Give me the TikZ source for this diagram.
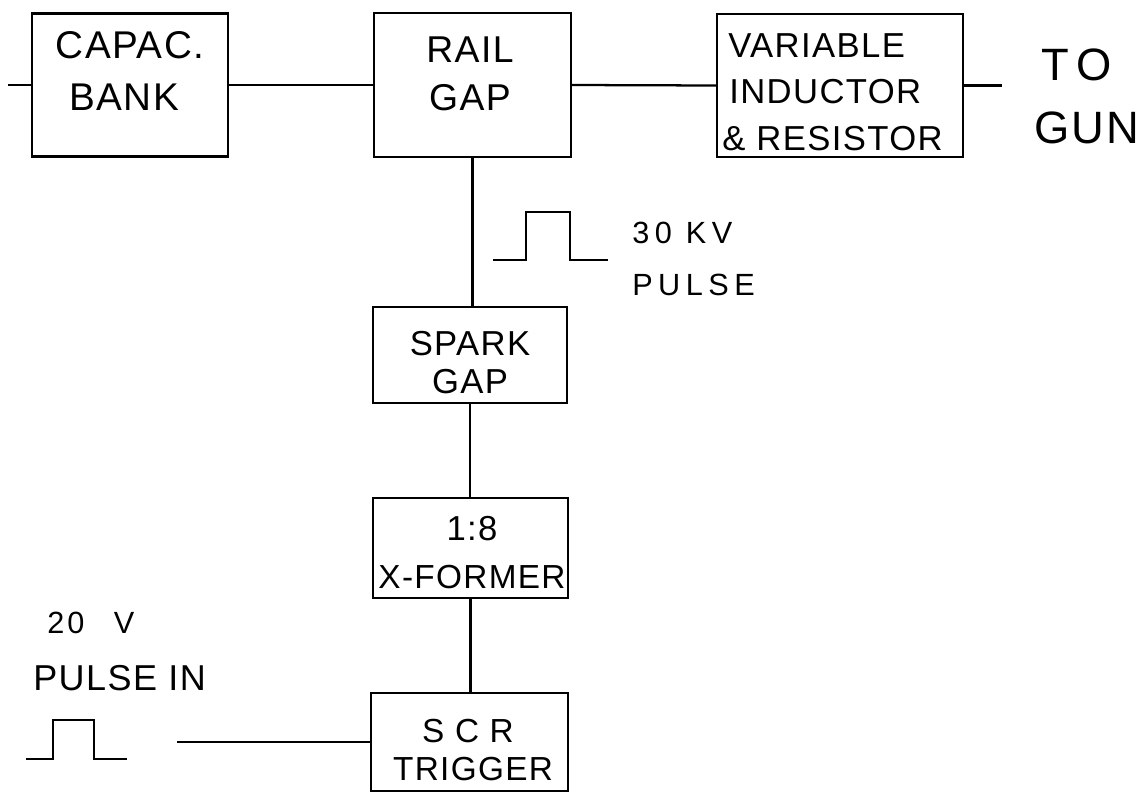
\documentclass[tikz,border=0pt]{standalone}
\usepackage{fontspec}
\setmainfont{Liberation Sans}[LetterSpace=4]
\begin{document}
\begin{tikzpicture}[x=0.75pt,y=-0.75pt,
  box/.style={draw, line width=1.7pt, inner sep=0pt},
  wire/.style={line width=1.7pt},
  lbl/.style={anchor=base, inner sep=0pt},
  lblw/.style={anchor=base west, inner sep=0pt},
  fs/.style={font=\fontsize{#1}{#1}\selectfont},
]
\useasboundingbox[fill=white] (0,0) rectangle (1145,793);
% boxes
\node[box, minimum width=147pt, minimum height=107.25pt] (capac) at (130,85) {};
\node[box, minimum width=147.75pt, minimum height=108pt] (rail) at (472.5,85) {};
\node[box, minimum width=184.5pt, minimum height=107.25pt] (var) at (840,85.5) {};
\node[box, minimum width=145.5pt, minimum height=72pt] (spark) at (470,355) {};
\node[box, minimum width=146.25pt, minimum height=75pt] (xf) at (470.5,548) {};
\node[box, minimum width=147.75pt, minimum height=73.5pt] (scr) at (469.5,742) {};
% box texts
\node[lbl, fs=29] (capacA) at (130,58) {CAPAC.};
\node[lbl, fs=29] (capacB) at (124,110) {BANK};
\node[lbl, fs=28] (railA) at (470,62) {RAIL};
\node[lbl, fs=28] (railB) at (470,110) {GAP};
\node[lblw, fs=26] (varA) at (728,57) {VARIABLE};
\node[lblw, fs=26] (varB) at (729,103) {INDUCTOR};
\node[lblw, fs=26] (varC) at (722,150) {\& RESISTOR};
\node[lbl, fs=26] (sparkA) at (470,355) {SPARK};
\node[lbl, fs=26] (sparkB) at (470,393) {GAP};
\node[lbl, fs=26] (xfA) at (472,540) {1:8};
\node[lbl, fs=25] (xfB) at (472,588) {X-FORMER};
\node[lbl, fs=25] (scrA) at (468,742) {S C R};
\node[lbl, fs=25] (scrB) at (473,780) {TRIGGER};
% free labels
\node[lbl, font=\fontsize{34}{34}\selectfont\addfontfeature{LetterSpace=18}] (to) at (1077,80) {TO};
\node[lbl, fs=34] (gun) at (1087,143) {GUN};
\node[lblw, font=\fontsize{23}{23}\selectfont\addfontfeature{LetterSpace=18}] (kv) at (632,243) {30 KV};
\node[lblw, font=\fontsize{23}{23}\selectfont\addfontfeature{LetterSpace=18}] (pulseA) at (632,295) {PULSE};
\node[lblw, font=\fontsize{23}{23}\selectfont\addfontfeature{LetterSpace=10}] (v20) at (47,633) {20\hspace{22pt}V};
\node[lblw, fs=27] (pulseB) at (33,690) {PULSE IN};
% connectors
\coordinate (inL) at (8,85);
\coordinate (gunR) at (1002,85.5);
\coordinate (trigL) at (177,742);
\draw[wire] (inL) -- (capac.west);
\draw[wire] (capac.east) -- (rail.west);
\draw[wire] (rail.east) -- (var.west);
\draw[wire] (var.east) -- (gunR);
\draw[wire] (rail.south) -- (rail.south |- spark.north);
\draw[wire] (spark.south) -- (spark.south |- xf.north);
\draw[wire] (xf.south) -- (xf.south |- scr.north);
\draw[wire] (scr.west) -- (trigL);
% pulse symbols
\draw[wire] (493,260) -- (526,260) -- (526,212) -- (570,212) -- (570,260) -- (608,260);
\draw[wire] (26,759) -- (53,759) -- (53,720) -- (94,720) -- (94,759) -- (127,759);
\end{tikzpicture}
\end{document}
